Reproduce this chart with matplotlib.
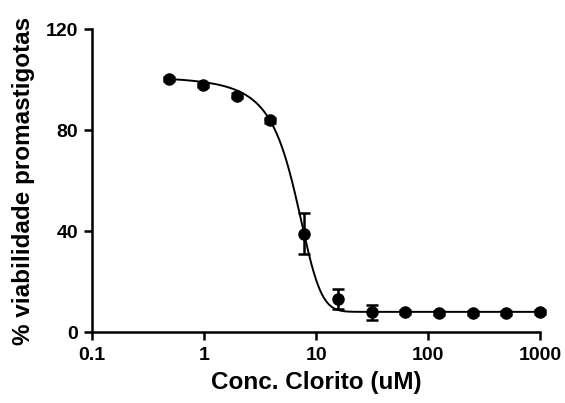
import numpy as np
import matplotlib
matplotlib.use("Agg")
import matplotlib.pyplot as plt

# Concentrations (uM) and % viability
conc = [0.49, 0.98, 1.95, 3.9, 7.8, 15.6, 31.25, 62.5, 125, 250, 500, 1000]
viab = [100.2, 98.0, 93.6, 83.8, 39.0, 13.2, 7.8, 7.8, 7.6, 7.4, 7.6, 7.9]
err = [0.8, 0.8, 1.0, 1.0, 8.0, 4.0, 3.0, 0.8, 0.8, 0.8, 0.8, 0.8]

# Fitted sigmoid (Boltzmann on linear concentration) parameters
TOP, BOTTOM, X_HALF, SLOPE = 104.5, 8.0, 6.37, 1.92

plt.rcParams["font.family"] = ["Liberation Sans", "DejaVu Sans"]
plt.rcParams["font.weight"] = "bold"

fig = plt.figure(figsize=(5.65, 4.03), dpi=100)
ax = fig.add_axes([0.163, 0.176, 0.793, 0.752])

xs = np.logspace(np.log10(conc[0]), np.log10(conc[-1]), 600)
ys = BOTTOM + (TOP - BOTTOM) / (1 + np.exp((xs - X_HALF) / SLOPE))
ax.plot(xs, ys, color="black", linewidth=1.4, clip_on=False)
ax.errorbar(conc, viab, yerr=err, fmt="o", color="black", markersize=8,
            elinewidth=1.8, capsize=4.5, capthick=1.8, clip_on=False)

ax.set_xscale("log")
ax.set_xlim(0.1, 1000)
ax.set_ylim(0, 120)
ax.set_xticks([0.1, 1, 10, 100, 1000])
ax.set_xticklabels(["0.1", "1", "10", "100", "1000"])
ax.xaxis.set_minor_locator(matplotlib.ticker.NullLocator())
ax.set_yticks([0, 40, 80, 120])

for side in ("top", "right"):
    ax.spines[side].set_visible(False)
for side in ("left", "bottom"):
    ax.spines[side].set_linewidth(1.8)
ax.tick_params(width=1.8, length=6, labelsize=14)
ax.tick_params(axis="x", pad=5)
ax.tick_params(axis="y", pad=4)

ax.set_xlabel("Conc. Clorito (uM)", fontsize=17.5, fontweight="bold", labelpad=5)
ax.set_ylabel("% viabilidade promastigotas", fontsize=17.5, fontweight="bold", labelpad=8)

fig.savefig("out.png", dpi=100)
